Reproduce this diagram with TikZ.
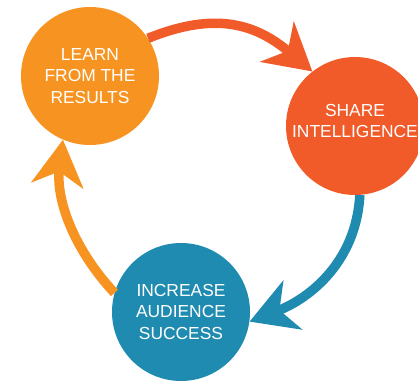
\documentclass[tikz,border=0pt]{standalone}
\usepackage{fontspec}
\setmainfont{Liberation Sans}
\usepackage{tikz}
\usetikzlibrary{arrows.meta, positioning}
\usepackage{xcolor}

\definecolor{learnorange}{RGB}{247,148,33}
\definecolor{sharered}{RGB}{241,90,41}
\definecolor{increaseblue}{RGB}{31,139,176}

\begin{document}
\begin{tikzpicture}[x=1pt,y=1pt]
\tikzstyle{stage} = [
	shape=circle,
	draw=none, %no border, only the fill
	text=white, %white caps on the coloured disc
	minimum size=138pt, %size of the discs
	inner sep=0pt,
	align=center,
	font=\fontsize{17.4}{21.7}\selectfont
];
\tikzstyle{cycle} = [
	-{Stealth[length=46pt,width=52pt,inset=14pt]},
	line width=9.5pt
];

\useasboundingbox (0,0) rectangle (418,-383);

\node[stage, fill=learnorange](Learn) at (90,-76) {LEARN\\FROM THE\\RESULTS};
\node[stage, fill=sharered](Share) at (355,-126) {SHARE\\INTELLIGENCE\rule[-10pt]{0pt}{10pt}};
\node[stage, fill=increaseblue](Increase) at (181,-312) {INCREASE\\AUDIENCE\\SUCCESS};

%learn -> share
\draw[cycle, color=sharered]
	(Learn.33) to[out=22,in=140,looseness=1.12] (Share.128);

%share -> increase
\draw[cycle, color=increaseblue]
	(Share.-86) to[out=-93,in=21] (Increase.-8);

%increase -> learn
\draw[cycle, color=learnorange]
	(Increase.164) to[out=133,in=-97,looseness=0.95] (Learn.247);

\end{tikzpicture}
\end{document}
